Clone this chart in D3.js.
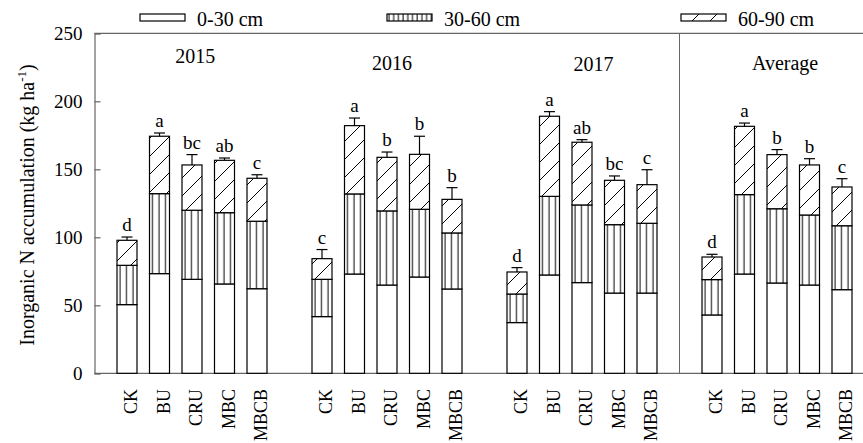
<!DOCTYPE html>
<html>
<head>
<meta charset="utf-8">
<script src="https://cdn.jsdelivr.net/npm/d3@7/dist/d3.min.js"></script>
<style>
  body { margin: 0; background: #fff; }
  svg { display: block; }
  svg text { font-family: "Liberation Serif", "Times New Roman", serif; }
</style>
</head>
<body>
<svg id="chart" width="863" height="443"></svg>
<script>
// chart values
var groups = ["2015", "2016", "2017", "Average"];
var treatments = ["CK", "BU", "CRU", "MBC", "MBCB"];
var depths = ["0-30 cm", "30-60 cm", "60-90 cm"];

var layer0_30 = [50.5, 73.3, 69.1, 65.7, 62.2,
                 41.7, 73.0, 64.9, 70.8, 62.0,
                 37.3, 72.3, 66.7, 59.0, 59.0,
                 42.9, 73.0, 66.4, 64.9, 61.5];
var layer30_60 = [28.9, 58.8, 50.8, 52.4, 49.6,
                  27.4, 58.9, 54.5, 49.8, 41.2,
                  21.0, 57.8, 57.1, 50.3, 51.3,
                  26.0, 58.4, 54.6, 51.5, 47.0];
var layer60_90 = [18.4, 42.2, 33.3, 38.5, 31.6,
                  15.2, 50.2, 39.4, 40.4, 24.7,
                  16.2, 58.9, 46.1, 32.6, 28.4,
                  16.6, 50.2, 39.8, 36.8, 28.5];
var errs = [2.4, 2.4, 7.6, 1.7, 2.6,
            6.7, 5.6, 3.9, 13.3, 8.6,
            3.2, 3.4, 1.9, 3.2, 11.0,
            2.0, 2.4, 3.7, 4.6, 6.1];
var letters = ["d", "a", "bc", "ab", "c",
               "c", "a", "b", "b", "b",
               "d", "a", "ab", "bc", "c",
               "d", "a", "b", "b", "c"];
var yTicks = [0, 50, 100, 150, 200, 250];

var svg = d3.select("#chart");
var axisColor = "#666";
var serif = "'Liberation Serif', 'Times New Roman', serif";

// slot positions: 5 bars then one empty slot per group
var x = d3.scaleLinear().domain([0, 22]).range([127, 842]);
var y = d3.scaleLinear().domain([0, 250]).range([373.3, 33.3]);
var barW = 20;
var left = 94.5;

function slot(i) {
  return Math.floor(i / 5) * 6 + (i % 5);
}

// patterns
var defs = svg.append("defs");
var pv = defs.append("pattern")
  .attr("id", "vert")
  .attr("patternUnits", "userSpaceOnUse")
  .attr("width", 6.5).attr("height", 10);
pv.append("rect").attr("width", 6.5).attr("height", 10).attr("fill", "#fff");
pv.append("line")
  .attr("x1", 3).attr("x2", 3).attr("y1", 0).attr("y2", 10)
  .attr("stroke", "#000").attr("stroke-width", 1);

var pvs = defs.append("pattern")
  .attr("id", "vertSmall")
  .attr("patternUnits", "userSpaceOnUse")
  .attr("width", 4.7).attr("height", 10);
pvs.append("rect").attr("width", 4.7).attr("height", 10).attr("fill", "#fff");
pvs.append("line")
  .attr("x1", 2).attr("x2", 2).attr("y1", 0).attr("y2", 10)
  .attr("stroke", "#000").attr("stroke-width", 1);

var pd = defs.append("pattern")
  .attr("id", "diag")
  .attr("patternUnits", "userSpaceOnUse")
  .attr("width", 18).attr("height", 18);
pd.append("rect").attr("width", 18).attr("height", 18).attr("fill", "#fff");
pd.append("path")
  .attr("d", "M-2,20 L20,-2")
  .attr("stroke", "#000").attr("stroke-width", 1);

var fills = ["#fff", "url(#vert)", "url(#diag)"];
var legendFills = ["#fff", "url(#vertSmall)", "url(#diag)"];

// stacked data
var rows = layer0_30.map(function (d, i) {
  return {
    i: i,
    parts: [layer0_30[i], layer30_60[i], layer60_90[i]],
    total: layer0_30[i] + layer30_60[i] + layer60_90[i],
    err: errs[i],
    letter: letters[i]
  };
});

var stack = d3.stack().keys([0, 1, 2]).value(function (d, k) { return d.parts[k]; });
var series = stack(rows);

// frame
svg.append("line")
  .attr("x1", left).attr("x2", 863).attr("y1", y(250)).attr("y2", y(250))
  .attr("stroke", axisColor).attr("stroke-width", 1.2);
svg.append("line")
  .attr("x1", left).attr("x2", 863).attr("y1", y(0)).attr("y2", y(0))
  .attr("stroke", axisColor).attr("stroke-width", 1.2);
svg.append("line")
  .attr("x1", x(17)).attr("x2", x(17)).attr("y1", y(250)).attr("y2", y(0))
  .attr("stroke", axisColor).attr("stroke-width", 1);

// y axis
var yAxis = svg.append("g")
  .attr("transform", "translate(" + left + ",0)")
  .call(d3.axisLeft(y).tickValues(yTicks).tickSize(-6).tickPadding(12));
yAxis.attr("font-family", null);
yAxis.select(".domain").attr("stroke", axisColor).attr("stroke-width", 1.2);
yAxis.selectAll(".tick line").attr("stroke", axisColor).attr("stroke-width", 1.2);
yAxis.selectAll(".tick text")
  .attr("fill", "#000")
  .style("font-family", serif)
  .style("font-size", "19px");

// bars
svg.append("g").selectAll("g").data(series).enter().append("g")
    .attr("fill", function (d, k) { return fills[k]; })
  .selectAll("rect").data(function (d) { return d; }).enter().append("rect")
    .attr("x", function (d, i) { return x(slot(i)) - barW / 2; })
    .attr("y", function (d) { return y(d[1]); })
    .attr("width", barW)
    .attr("height", function (d) { return y(d[0]) - y(d[1]); })
    .attr("stroke", "#000")
    .attr("stroke-width", 1.2);

// error bars (upper only)
var eb = svg.append("g").attr("stroke", "#000").attr("stroke-width", 1.2);
eb.selectAll("line.v").data(rows).enter().append("line")
  .attr("x1", function (d) { return x(slot(d.i)); })
  .attr("x2", function (d) { return x(slot(d.i)); })
  .attr("y1", function (d) { return y(d.total); })
  .attr("y2", function (d) { return y(d.total + d.err); });
eb.selectAll("line.c").data(rows).enter().append("line")
  .attr("x1", function (d) { return x(slot(d.i)) - 5.5; })
  .attr("x2", function (d) { return x(slot(d.i)) + 5.5; })
  .attr("y1", function (d) { return y(d.total + d.err); })
  .attr("y2", function (d) { return y(d.total + d.err); });

// significance letters
svg.append("g").selectAll("text").data(rows).enter().append("text")
  .attr("x", function (d) { return x(slot(d.i)); })
  .attr("y", function (d) { return y(d.total + d.err) - 6; })
  .attr("text-anchor", "middle")
  .style("font-family", serif)
  .style("font-size", "19px")
  .text(function (d) { return d.letter; });

// group titles
var titlePos = [[2.1, 63], [8.15, 70], [14.35, 70.5], [20.25, 70]];
svg.append("g").selectAll("text").data(groups).enter().append("text")
  .attr("x", function (d, g) { return x(titlePos[g][0]); })
  .attr("y", function (d, g) { return titlePos[g][1]; })
  .attr("text-anchor", "middle")
  .style("font-family", serif)
  .style("font-size", "20px")
  .text(function (d) { return d; });

// x labels
var xl = [];
groups.forEach(function (g, gi) {
  treatments.forEach(function (t, ti) { xl.push({ s: gi * 6 + ti, t: t }); });
});
svg.append("g").selectAll("text").data(xl).enter().append("text")
  .attr("transform", function (d) {
    return "translate(" + (x(d.s) + 4) + ",389) rotate(-90)";
  })
  .attr("dy", "0.35em")
  .attr("text-anchor", "end")
  .style("font-family", serif)
  .style("font-size", "18px")
  .text(function (d) { return d.t; });

// y title
var yt = svg.append("text")
  .attr("transform", "translate(34,205) rotate(-90)")
  .attr("text-anchor", "middle")
  .style("font-family", serif)
  .style("font-size", "20px");
yt.append("tspan").text("Inorganic N accumulation (kg ha");
yt.append("tspan").attr("dy", -8).style("font-size", "13px").text("-1");
yt.append("tspan").attr("dy", 8).text(")");

// legend
var legendX = [140, 387, 681];
var lg = svg.append("g").selectAll("g").data(depths).enter().append("g")
  .attr("transform", function (d, k) { return "translate(" + legendX[k] + ",14)"; });
lg.append("rect")
  .attr("width", 45).attr("height", 7)
  .attr("fill", function (d, k) { return legendFills[k]; })
  .attr("stroke", "#000").attr("stroke-width", 1.2);
lg.append("text")
  .attr("x", 57).attr("y", 12)
  .style("font-family", serif)
  .style("font-size", "20px")
  .text(function (d) { return d; });
</script>
</body>
</html>
